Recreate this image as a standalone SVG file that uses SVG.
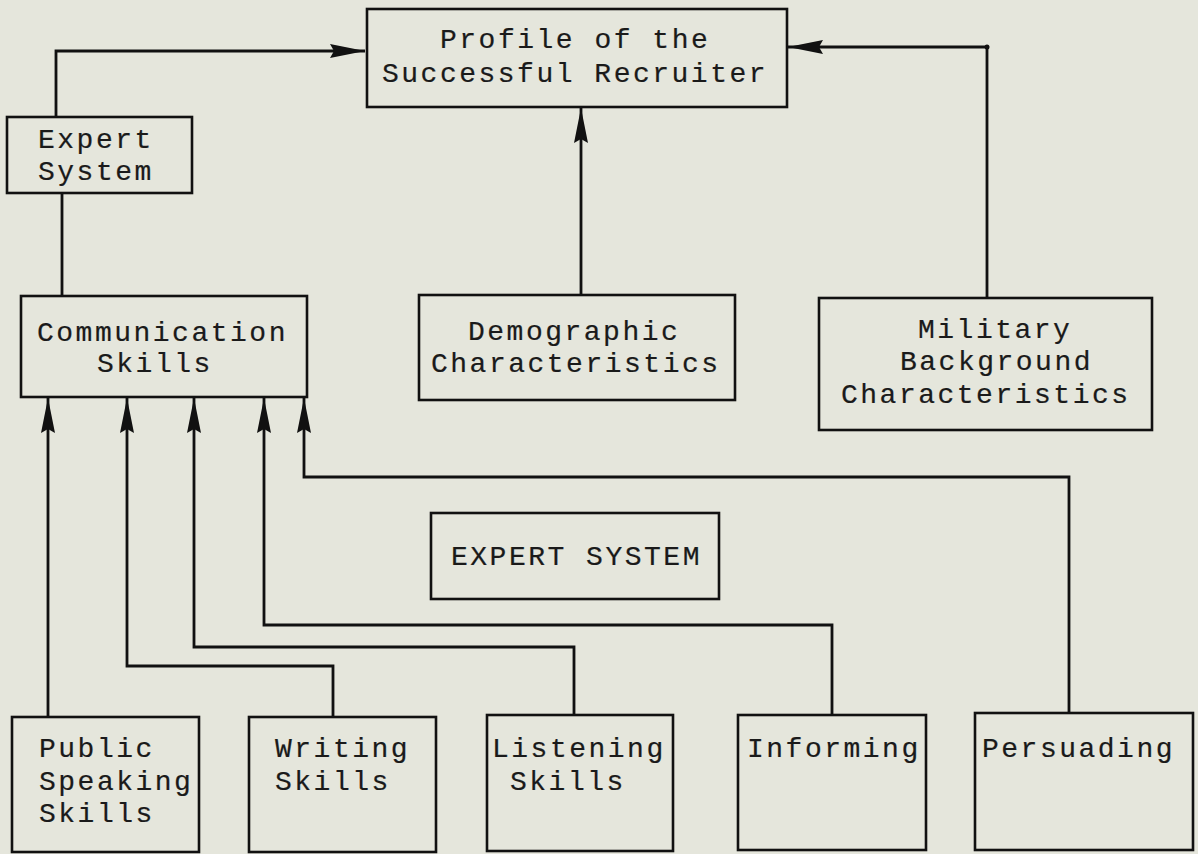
<svg xmlns="http://www.w3.org/2000/svg" width="1198" height="854" viewBox="0 0 1198 854">
  <style>
    .box { fill: none; stroke: #111; stroke-width: 2.6; }
    .lbl { font-family: "Liberation Mono", "Courier New", monospace; font-size: 28px; letter-spacing: 2.5px; fill: #1a1a1a; stroke: #1a1a1a; stroke-width: 0.2; }
    .wire { fill: none; stroke: #111; stroke-width: 2.8; stroke-linejoin: miter; }
  </style>
  <defs>
    <marker id="arrow" markerUnits="userSpaceOnUse" markerWidth="36" markerHeight="15" refX="35" refY="7.5" orient="auto">
      <path d="M0,0.5 L35,7.5 L0,14.5 L4,7.5 z" fill="#111"/>
    </marker>
  </defs>

  <rect width="1198" height="854" fill="#e5e6dc"/>

  <!-- connectors -->
  <g id="connectors">
    <path class="wire" d="M56,117 V51 H365" marker-end="url(#arrow)"/>
    <path class="wire" d="M62,193 V296"/>
    <path class="wire" d="M581,296 V108" marker-end="url(#arrow)"/>
    <path class="wire" d="M987,297 V47 H788" marker-end="url(#arrow)"/>
    <circle cx="987" cy="47" r="2.5" fill="#111"/>
    <path class="wire" d="M48,717 V398" marker-end="url(#arrow)"/>
    <path class="wire" d="M333,717 V666 H127 V398" marker-end="url(#arrow)"/>
    <path class="wire" d="M574,715 V647 H194 V398" marker-end="url(#arrow)"/>
    <path class="wire" d="M832,715 V625 H264 V398" marker-end="url(#arrow)"/>
    <path class="wire" d="M1069,713 V477 H304 V398" marker-end="url(#arrow)"/>
  </g>

  <g id="profile">
    <rect class="box" x="367" y="9" width="420" height="98"/>
    <text class="lbl" x="440" y="48">Profile of the</text>
    <text class="lbl" x="382" y="82">Successful Recruiter</text>
  </g>

  <g id="expert-system-small">
    <rect class="box" x="7" y="117" width="185" height="76"/>
    <text class="lbl" x="38" y="148">Expert</text>
    <text class="lbl" x="38" y="180">System</text>
  </g>

  <g id="communication">
    <rect class="box" x="21" y="296" width="286" height="101"/>
    <text class="lbl" x="37" y="341">Communication</text>
    <text class="lbl" x="97" y="372">Skills</text>
  </g>

  <g id="demographic">
    <rect class="box" x="419" y="295" width="316" height="105"/>
    <text class="lbl" x="468" y="340">Demographic</text>
    <text class="lbl" x="431" y="372">Characteristics</text>
  </g>

  <g id="military">
    <rect class="box" x="819" y="298" width="333" height="132"/>
    <text class="lbl" x="918" y="338">Military</text>
    <text class="lbl" x="900" y="370">Background</text>
    <text class="lbl" x="841" y="403">Characteristics</text>
  </g>

  <g id="expert-system">
    <rect class="box" x="431" y="513" width="288" height="86"/>
    <text class="lbl" x="451" y="565">EXPERT SYSTEM</text>
  </g>

  <g id="public-speaking">
    <rect class="box" x="12" y="717" width="187" height="135"/>
    <text class="lbl" x="39" y="757">Public</text>
    <text class="lbl" x="39" y="790">Speaking</text>
    <text class="lbl" x="39" y="822">Skills</text>
  </g>

  <g id="writing">
    <rect class="box" x="249" y="717" width="187" height="135"/>
    <text class="lbl" x="275" y="757">Writing</text>
    <text class="lbl" x="275" y="790">Skills</text>
  </g>

  <g id="listening">
    <rect class="box" x="487" y="715" width="186" height="136"/>
    <text class="lbl" x="492" y="757">Listening</text>
    <text class="lbl" x="510" y="790">Skills</text>
  </g>

  <g id="informing">
    <rect class="box" x="738" y="715" width="188" height="135"/>
    <text class="lbl" x="747" y="757">Informing</text>
  </g>

  <g id="persuading">
    <rect class="box" x="975" y="713" width="218" height="137"/>
    <text class="lbl" x="982" y="757">Persuading</text>
  </g>
</svg>
